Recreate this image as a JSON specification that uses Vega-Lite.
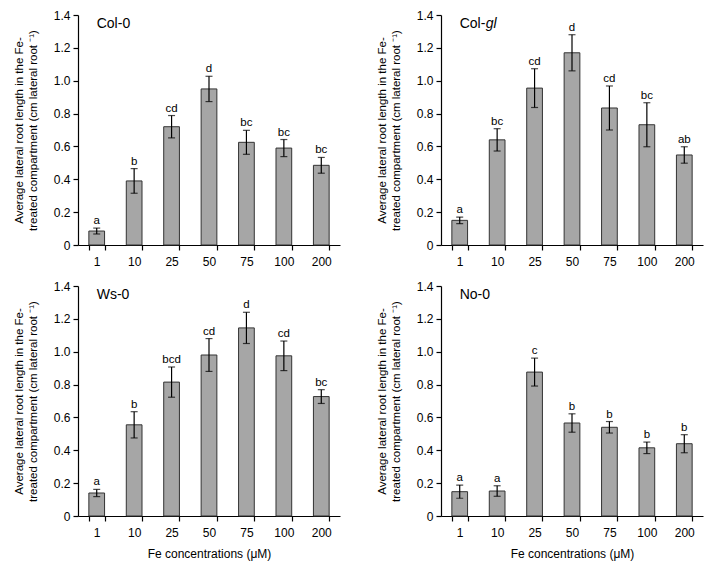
{
  "$schema": "https://vega.github.io/schema/vega-lite/v6.json",
  "padding": {"left": 13, "top": 9, "right": 5, "bottom": 5},
  "background": "white",
  "datasets": {
    "d": [
      {"panel": "Col-0", "conc": "1", "mean": 0.085, "lo": 0.067, "hi": 0.103, "letter": "a"},
      {"panel": "Col-0", "conc": "10", "mean": 0.39, "lo": 0.315, "hi": 0.465, "letter": "b"},
      {"panel": "Col-0", "conc": "25", "mean": 0.72, "lo": 0.652, "hi": 0.788, "letter": "cd"},
      {"panel": "Col-0", "conc": "50", "mean": 0.95, "lo": 0.873, "hi": 1.027, "letter": "d"},
      {"panel": "Col-0", "conc": "75", "mean": 0.625, "lo": 0.552, "hi": 0.698, "letter": "bc"},
      {"panel": "Col-0", "conc": "100", "mean": 0.59, "lo": 0.538, "hi": 0.642, "letter": "bc"},
      {"panel": "Col-0", "conc": "200", "mean": 0.485, "lo": 0.437, "hi": 0.533, "letter": "bc"},
      {"panel": "Col-gl", "conc": "1", "mean": 0.15, "lo": 0.13, "hi": 0.17, "letter": "a"},
      {"panel": "Col-gl", "conc": "10", "mean": 0.64, "lo": 0.572, "hi": 0.708, "letter": "bc"},
      {"panel": "Col-gl", "conc": "25", "mean": 0.955, "lo": 0.837, "hi": 1.073, "letter": "cd"},
      {"panel": "Col-gl", "conc": "50", "mean": 1.17, "lo": 1.06, "hi": 1.28, "letter": "d"},
      {"panel": "Col-gl", "conc": "75", "mean": 0.834, "lo": 0.7, "hi": 0.968, "letter": "cd"},
      {"panel": "Col-gl", "conc": "100", "mean": 0.732, "lo": 0.598, "hi": 0.866, "letter": "bc"},
      {"panel": "Col-gl", "conc": "200", "mean": 0.548, "lo": 0.498, "hi": 0.598, "letter": "ab"},
      {"panel": "Ws-0", "conc": "1", "mean": 0.14, "lo": 0.118, "hi": 0.162, "letter": "a"},
      {"panel": "Ws-0", "conc": "10", "mean": 0.555, "lo": 0.475, "hi": 0.635, "letter": "b"},
      {"panel": "Ws-0", "conc": "25", "mean": 0.815, "lo": 0.723, "hi": 0.907, "letter": "bcd"},
      {"panel": "Ws-0", "conc": "50", "mean": 0.98, "lo": 0.88, "hi": 1.08, "letter": "cd"},
      {"panel": "Ws-0", "conc": "75", "mean": 1.145, "lo": 1.05, "hi": 1.24, "letter": "d"},
      {"panel": "Ws-0", "conc": "100", "mean": 0.975, "lo": 0.885, "hi": 1.065, "letter": "cd"},
      {"panel": "Ws-0", "conc": "200", "mean": 0.727, "lo": 0.685, "hi": 0.769, "letter": "bc"},
      {"panel": "No-0", "conc": "1", "mean": 0.148, "lo": 0.108, "hi": 0.188, "letter": "a"},
      {"panel": "No-0", "conc": "10", "mean": 0.152, "lo": 0.12, "hi": 0.184, "letter": "a"},
      {"panel": "No-0", "conc": "25", "mean": 0.876, "lo": 0.791, "hi": 0.961, "letter": "c"},
      {"panel": "No-0", "conc": "50", "mean": 0.566, "lo": 0.51, "hi": 0.622, "letter": "b"},
      {"panel": "No-0", "conc": "75", "mean": 0.54, "lo": 0.505, "hi": 0.575, "letter": "b"},
      {"panel": "No-0", "conc": "100", "mean": 0.415, "lo": 0.38, "hi": 0.45, "letter": "b"},
      {"panel": "No-0", "conc": "200", "mean": 0.44, "lo": 0.385, "hi": 0.495, "letter": "b"}
    ]
  },
  "config": {
    "font": "Liberation Sans",
    "view": {"stroke": null},
    "axis": {
      "domainColor": "black", "tickColor": "black", "labelColor": "black", "titleColor": "black",
      "labelFont": "Liberation Sans", "titleFont": "Liberation Sans", "labelFontSize": 12,
      "grid": false, "titleFontWeight": "normal", "tickSize": 5, "domainWidth": 1.2, "tickWidth": 1.2, "labelOverlap": false
    },
    "tick": {"thickness": 1.2}
  },
  "spacing": 13,
  "vconcat": [
    {
      "spacing": 36,
      "hconcat": [
        {
          "width": 262, "height": 230,
          "data": {"name": "d"},
          "transform": [{"filter": "datum.panel == 'Col-0'"}],
          "resolve": {"axis": {"y": "independent"}},
          "encoding": {
            "x": {"field": "conc", "type": "ordinal", "sort": ["1","10","25","50","75","100","200"],
                  "scale": {"paddingInner": 0.58, "paddingOuter": 0.29},
                  "axis": {"title": null, "labelAngle": 0, "tickBand": "extent", "labelPadding": 6}}
          },
          "layer": [
            {"mark": {"type": "bar", "fill": "#a6a6a6", "stroke": "#333333", "strokeWidth": 1},
             "encoding": {"y": {"field": "mean", "type": "quantitative", "scale": {"domain": [0, 1.4]},
               "axis": {"values": [0,0.2,0.4,0.6,0.8,1.0,1.2,1.4], "labelExpr": "datum.value == 0 ? '0' : format(datum.value, '.1f')",
                        "title": ["Average lateral root length in the Fe-", "treated compartment (cm lateral root ⁻¹)"],
                        "titleFontSize": 11.5, "titleLineHeight": 14, "labelPadding": 3, "titlePadding": 15}}}},
            {"mark": {"type": "rule", "color": "black", "strokeWidth": 1.2},
             "encoding": {"y": {"field": "lo", "type": "quantitative", "axis": null}, "y2": {"field": "hi"}}},
            {"mark": {"type": "tick", "color": "black", "size": 7},
             "encoding": {"y": {"field": "lo", "type": "quantitative", "axis": null}}},
            {"mark": {"type": "tick", "color": "black", "size": 7},
             "encoding": {"y": {"field": "hi", "type": "quantitative", "axis": null}}},
            {"mark": {"type": "text", "fontSize": 11.5, "baseline": "alphabetic", "dy": -4, "color": "black"},
             "encoding": {"y": {"field": "hi", "type": "quantitative", "axis": null}, "text": {"field": "letter"}}},
            {"data": {"values": [{"t": "Col-0"}]},
             "mark": {"type": "text", "fontSize": 14, "align": "left", "baseline": "middle", "color": "black"},
             "encoding": {"x": {"datum": "1"}, "y": {"datum": 1.345, "axis": null}, "text": {"field": "t"}}}
          ]
        },
        {
          "width": 262, "height": 230,
          "data": {"name": "d"},
          "transform": [{"filter": "datum.panel == 'Col-gl'"}],
          "resolve": {"axis": {"y": "independent"}},
          "encoding": {
            "x": {"field": "conc", "type": "ordinal", "sort": ["1","10","25","50","75","100","200"],
                  "scale": {"paddingInner": 0.58, "paddingOuter": 0.29},
                  "axis": {"title": null, "labelAngle": 0, "tickBand": "extent", "labelPadding": 6}}
          },
          "layer": [
            {"mark": {"type": "bar", "fill": "#a6a6a6", "stroke": "#333333", "strokeWidth": 1},
             "encoding": {"y": {"field": "mean", "type": "quantitative", "scale": {"domain": [0, 1.4]},
               "axis": {"values": [0,0.2,0.4,0.6,0.8,1.0,1.2,1.4], "labelExpr": "datum.value == 0 ? '0' : format(datum.value, '.1f')",
                        "title": ["Average lateral root length in the Fe-", "treated compartment (cm lateral root ⁻¹)"],
                        "titleFontSize": 11.5, "titleLineHeight": 14, "labelPadding": 3, "titlePadding": 15}}}},
            {"mark": {"type": "rule", "color": "black", "strokeWidth": 1.2},
             "encoding": {"y": {"field": "lo", "type": "quantitative", "axis": null}, "y2": {"field": "hi"}}},
            {"mark": {"type": "tick", "color": "black", "size": 7},
             "encoding": {"y": {"field": "lo", "type": "quantitative", "axis": null}}},
            {"mark": {"type": "tick", "color": "black", "size": 7},
             "encoding": {"y": {"field": "hi", "type": "quantitative", "axis": null}}},
            {"mark": {"type": "text", "fontSize": 11.5, "baseline": "alphabetic", "dy": -4, "color": "black"},
             "encoding": {"y": {"field": "hi", "type": "quantitative", "axis": null}, "text": {"field": "letter"}}},
            {"data": {"values": [{"t": "Col-"}]},
             "mark": {"type": "text", "fontSize": 14, "align": "left", "baseline": "middle", "color": "black"},
             "encoding": {"x": {"datum": "1"}, "y": {"datum": 1.345, "axis": null}, "text": {"field": "t"}}},
            {"data": {"values": [{"t": "gl"}]},
             "mark": {"type": "text", "fontSize": 14, "fontStyle": "italic", "align": "left", "baseline": "middle", "dx": 26, "color": "black"},
             "encoding": {"x": {"datum": "1"}, "y": {"datum": 1.345, "axis": null}, "text": {"field": "t"}}}
          ]
        }
      ]
    },
    {
      "spacing": 36,
      "hconcat": [
        {
          "width": 262, "height": 230,
          "data": {"name": "d"},
          "transform": [{"filter": "datum.panel == 'Ws-0'"}],
          "resolve": {"axis": {"y": "independent"}},
          "encoding": {
            "x": {"field": "conc", "type": "ordinal", "sort": ["1","10","25","50","75","100","200"],
                  "scale": {"paddingInner": 0.58, "paddingOuter": 0.29},
                  "axis": {"title": "Fe concentrations (μM)", "titleFontSize": 12, "titlePadding": 10, "labelAngle": 0, "tickBand": "extent", "labelPadding": 6}}
          },
          "layer": [
            {"mark": {"type": "bar", "fill": "#a6a6a6", "stroke": "#333333", "strokeWidth": 1},
             "encoding": {"y": {"field": "mean", "type": "quantitative", "scale": {"domain": [0, 1.4]},
               "axis": {"values": [0,0.2,0.4,0.6,0.8,1.0,1.2,1.4], "labelExpr": "datum.value == 0 ? '0' : format(datum.value, '.1f')",
                        "title": ["Average lateral root length in the Fe-", "treated compartment (cm lateral root ⁻¹)"],
                        "titleFontSize": 11.5, "titleLineHeight": 14, "labelPadding": 3, "titlePadding": 15}}}},
            {"mark": {"type": "rule", "color": "black", "strokeWidth": 1.2},
             "encoding": {"y": {"field": "lo", "type": "quantitative", "axis": null}, "y2": {"field": "hi"}}},
            {"mark": {"type": "tick", "color": "black", "size": 7},
             "encoding": {"y": {"field": "lo", "type": "quantitative", "axis": null}}},
            {"mark": {"type": "tick", "color": "black", "size": 7},
             "encoding": {"y": {"field": "hi", "type": "quantitative", "axis": null}}},
            {"mark": {"type": "text", "fontSize": 11.5, "baseline": "alphabetic", "dy": -4, "color": "black"},
             "encoding": {"y": {"field": "hi", "type": "quantitative", "axis": null}, "text": {"field": "letter"}}},
            {"data": {"values": [{"t": "Ws-0"}]},
             "mark": {"type": "text", "fontSize": 14, "align": "left", "baseline": "middle", "color": "black"},
             "encoding": {"x": {"datum": "1"}, "y": {"datum": 1.345, "axis": null}, "text": {"field": "t"}}}
          ]
        },
        {
          "width": 262, "height": 230,
          "data": {"name": "d"},
          "transform": [{"filter": "datum.panel == 'No-0'"}],
          "resolve": {"axis": {"y": "independent"}},
          "encoding": {
            "x": {"field": "conc", "type": "ordinal", "sort": ["1","10","25","50","75","100","200"],
                  "scale": {"paddingInner": 0.58, "paddingOuter": 0.29},
                  "axis": {"title": "Fe concentrations (μM)", "titleFontSize": 12, "titlePadding": 10, "labelAngle": 0, "tickBand": "extent", "labelPadding": 6}}
          },
          "layer": [
            {"mark": {"type": "bar", "fill": "#a6a6a6", "stroke": "#333333", "strokeWidth": 1},
             "encoding": {"y": {"field": "mean", "type": "quantitative", "scale": {"domain": [0, 1.4]},
               "axis": {"values": [0,0.2,0.4,0.6,0.8,1.0,1.2,1.4], "labelExpr": "datum.value == 0 ? '0' : format(datum.value, '.1f')",
                        "title": ["Average lateral root length in the Fe-", "treated compartment (cm lateral root ⁻¹)"],
                        "titleFontSize": 11.5, "titleLineHeight": 14, "labelPadding": 3, "titlePadding": 15}}}},
            {"mark": {"type": "rule", "color": "black", "strokeWidth": 1.2},
             "encoding": {"y": {"field": "lo", "type": "quantitative", "axis": null}, "y2": {"field": "hi"}}},
            {"mark": {"type": "tick", "color": "black", "size": 7},
             "encoding": {"y": {"field": "lo", "type": "quantitative", "axis": null}}},
            {"mark": {"type": "tick", "color": "black", "size": 7},
             "encoding": {"y": {"field": "hi", "type": "quantitative", "axis": null}}},
            {"mark": {"type": "text", "fontSize": 11.5, "baseline": "alphabetic", "dy": -4, "color": "black"},
             "encoding": {"y": {"field": "hi", "type": "quantitative", "axis": null}, "text": {"field": "letter"}}},
            {"data": {"values": [{"t": "No-0"}]},
             "mark": {"type": "text", "fontSize": 14, "align": "left", "baseline": "middle", "color": "black"},
             "encoding": {"x": {"datum": "1"}, "y": {"datum": 1.345, "axis": null}, "text": {"field": "t"}}}
          ]
        }
      ]
    }
  ]
}
